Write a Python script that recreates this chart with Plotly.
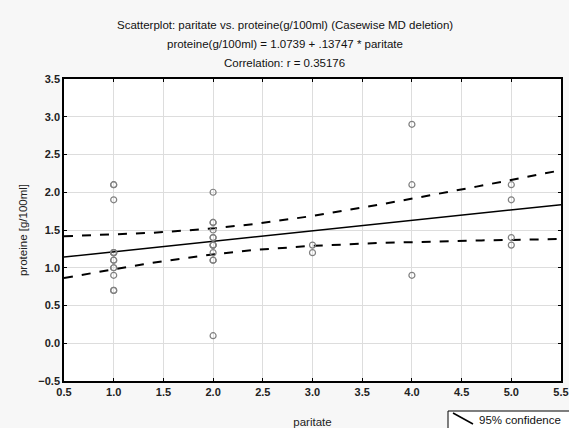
import numpy as np
import plotly.graph_objects as go

# Data (overlapping circles at x=1 and x=2 included)
paritate = [1, 1, 1, 1, 1, 1, 1, 1, 1, 1, 1, 1, 1,
            2, 2, 2, 2, 2, 2, 2, 2, 2, 2, 2, 2, 2,
            3, 3,
            4, 4, 4,
            5, 5, 5, 5]
proteine = [2.1, 1.9, 1.2, 1.1, 1.0, 0.9, 0.7, 2.1, 0.7, 1.2, 1.1, 1.0, 1.2,
            2.0, 1.6, 1.5, 1.4, 1.3, 1.2, 1.1, 0.1, 1.6, 1.1, 1.3, 1.4, 1.3,
            1.3, 1.2,
            2.9, 2.1, 0.9,
            2.1, 1.9, 1.4, 1.3]
title_lines = ["Scatterplot: paritate vs. proteine(g/100ml) (Casewise MD deletion)",
               "proteine(g/100ml) = 1.0739 + .13747 * paritate",
               "Correlation: r = 0.35176"]
x_ticks = [0.5, 1.0, 1.5, 2.0, 2.5, 3.0, 3.5, 4.0, 4.5, 5.0, 5.5]
y_ticks = [-0.5, 0.0, 0.5, 1.0, 1.5, 2.0, 2.5, 3.0, 3.5]
legend_label = "95% confidence"

# Regression fit and 95% confidence band computed from the data
x = np.array(paritate, float)
y = np.array(proteine, float)
n = len(x)
b, a = np.polyfit(x, y, 1)
resid = y - (a + b * x)
s = np.sqrt(np.sum(resid ** 2) / (n - 2))
sxx = np.sum((x - x.mean()) ** 2)
t = 2.035  # t(0.975, df=33)
xs = np.linspace(0.5, 5.5, 101)
fit = a + b * xs
half = t * s * np.sqrt(1.0 / n + (xs - x.mean()) ** 2 / sxx)

fig = go.Figure()
fig.add_trace(go.Scatter(x=xs, y=fit, mode="lines", line=dict(color="black", width=1.5),
                         showlegend=False, hoverinfo="skip"))
fig.add_trace(go.Scatter(x=xs, y=fit + half, mode="lines", name=legend_label, showlegend=False,
                         line=dict(color="black", width=2, dash="dash")))
fig.add_trace(go.Scatter(x=xs, y=fit - half, mode="lines", showlegend=False,
                         line=dict(color="black", width=2, dash="dash")))
fig.add_trace(go.Scatter(x=paritate, y=proteine, mode="markers", showlegend=False,
                         marker=dict(symbol="circle-open", size=6,
                                     color="#808080", line=dict(width=1.2, color="#808080"))))

L, R, T, B = 64, 8, 79, 47
W, H = 569, 428
pw = W - L - R
ph = H - T - B
def px(xp):
    return (xp - L) / pw
def py(yp):
    return ((T + ph) - yp) / ph

cx = px(W / 2)
for i, line in enumerate(title_lines):
    yy = 25 + 19 * i
    fig.add_annotation(text=line, xref="paper", yref="paper", x=cx, y=py(yy),
                       showarrow=False, xanchor="center", yanchor="middle",
                       font=dict(size=11.5, color="#111"))

# legend box (bottom right, partly cut off as in the original)
fig.add_shape(type="rect", xref="paper", yref="paper", x0=px(448), x1=px(580),
              y0=py(411), y1=py(440), line=dict(color="black", width=1), fillcolor="white")
fig.add_shape(type="line", xref="paper", yref="paper", x0=px(453), y0=py(413),
              x1=px(473), y1=py(424), line=dict(color="black", width=1.5))
fig.add_annotation(text=legend_label, xref="paper", yref="paper", x=px(477), y=py(420),
                   showarrow=False, xanchor="left", yanchor="middle",
                   font=dict(size=11.5, color="#111"))

tickfont = dict(family="Liberation Sans, Arial", size=11, color="#222", weight="bold")
axis_common = dict(showgrid=True, gridcolor="#dddddd", gridwidth=1,
                   showline=True, linecolor="black", linewidth=1.5, mirror="ticks",
                   ticks="inside", ticklen=3, tickcolor="black", zeroline=False,
                   tickfont=tickfont, tickformat=".1f", automargin=False)
fig.update_xaxes(range=[0.5, 5.5], tickvals=x_ticks,
                 title=dict(text="paritate", standoff=25, font=dict(size=11.5, color="#222")),
                 **axis_common)
fig.update_yaxes(range=[-0.5, 3.5], tickvals=y_ticks,
                 title=dict(text="proteine [g/100ml]", standoff=8, font=dict(size=11.5, color="#222")),
                 **axis_common)

fig.update_layout(
    width=W, height=H,
    margin=dict(l=L, r=R, t=T, b=B),
    paper_bgcolor="#f7f7f7", plot_bgcolor="white",
    font=dict(family="Liberation Sans, Arial", size=11, color="#111"),
    showlegend=False,
)
fig.write_html("out.html", config={"displayModeBar": False},
               post_script="document.body.style.margin='0';document.body.style.padding='0';")
